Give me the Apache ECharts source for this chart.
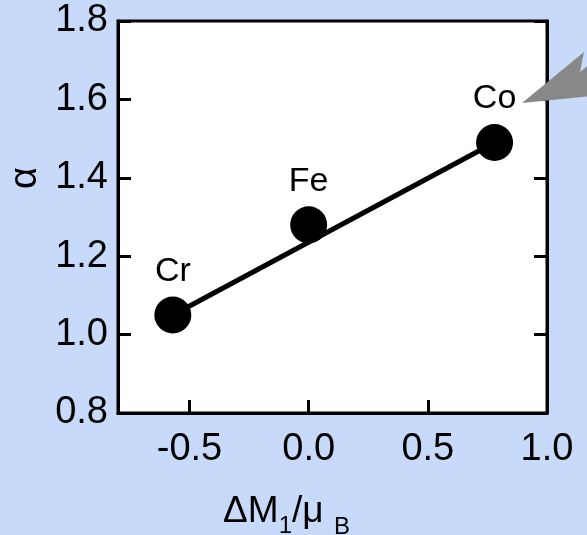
<!DOCTYPE html>
<html>
<head>
<meta charset="utf-8">
<script src="https://cdn.jsdelivr.net/npm/echarts@6/dist/echarts.min.js"></script>
<style>
html,body{margin:0;padding:0;background:#c8dafa;}
#chart{width:587px;height:535px;}
</style>
</head>
<body>
<div id="chart"></div>
<script>
// Data
const elements = ['Cr', 'Fe', 'Co'];
const deltaM = [-0.57, 0.0, 0.78];
const alphaVals = [1.05, 1.28, 1.49];
const fitX = [-0.57, 0.78];
const fitY = [1.05, 1.49];
const xTickValues = [-0.5, 0.0, 0.5, 1.0];

const font = 'Liberation Sans, Arial, sans-serif';
const chart = echarts.init(document.getElementById('chart'));

const pts = elements.map((e, i) => ({ name: e, value: [deltaM[i], alphaVals[i]] }));
const fit = fitX.map((x, i) => [x, fitY[i]]);

chart.setOption({
  backgroundColor: '#c8dafa',
  animation: false,
  grid: {
    left: 118, top: 21, right: 40, bottom: 122,
    containLabel: false, outerBoundsMode: 'none',
    show: true, backgroundColor: '#ffffff', borderColor: '#000', borderWidth: 3
  },
  xAxis: {
    type: 'value', min: -0.8, max: 1.0,
    axisLine: { show: true, onZero: false, lineStyle: { color: '#000', width: 3 } },
    axisTick: { show: true, inside: true, length: 13, customValues: xTickValues, lineStyle: { color: '#000', width: 3 } },
    axisLabel: { show: true, customValues: xTickValues, margin: 18, color: '#000', fontSize: 38, fontFamily: font,
      formatter: v => v.toFixed(1) },
    splitLine: { show: false },
    name: '{a|ΔM}{s|1}{a|/μ }{e|B}',
    nameLocation: 'middle', nameGap: 71,
    nameTextStyle: {
      rich: {
        a: { fontSize: 37, fontFamily: font, color: '#000', lineHeight: 46, verticalAlign: 'bottom' },
        s: { fontSize: 24, fontFamily: font, color: '#000', lineHeight: 46, verticalAlign: 'bottom', padding: [0, 0, -8, 0] },
        e: { fontSize: 24, fontFamily: font, color: '#000', lineHeight: 46, verticalAlign: 'bottom', padding: [0, 92, -9, 0] }
      }
    }
  },
  yAxis: [{
    type: 'value', min: 0.8, max: 1.8, interval: 0.2,
    axisLine: { show: true, onZero: false, lineStyle: { color: '#000', width: 3 } },
    axisTick: { show: true, inside: true, length: 13, lineStyle: { color: '#000', width: 3 } },
    axisLabel: { margin: 10, color: '#000', fontSize: 38, fontFamily: font, formatter: v => v.toFixed(1) },
    splitLine: { show: false },
    name: 'α', nameLocation: 'middle', nameRotate: 90, nameGap: 72,
    nameTextStyle: { fontSize: 38, fontFamily: font, color: '#000', padding: [0, 0, 0, 78] }
  }, {
    type: 'value', min: 0.8, max: 1.8, interval: 0.2, position: 'right',
    axisLine: { show: true, onZero: false, lineStyle: { color: '#000', width: 3 } },
    axisTick: { show: true, inside: true, length: 13, lineStyle: { color: '#000', width: 3 } },
    axisLabel: { show: false },
    splitLine: { show: false }
  }],
  graphic: [{
    type: 'polygon', z: 100,
    shape: { points: [[522, 103], [584, 52], [580, 72], [592, 62], [592, 96]] },
    style: { fill: '#888888' }
  }],
  series: [{
    type: 'line', data: fit, symbol: 'none', z: 2,
    lineStyle: { color: '#000', width: 5, opacity: 1 }
  }, {
    type: 'scatter', data: pts, symbol: 'circle', symbolSize: 37, z: 3,
    itemStyle: { color: '#000', opacity: 1 },
    label: { show: true, position: 'top', distance: 8, formatter: '{b}', color: '#000', fontSize: 34, fontFamily: font }
  }]
});
</script>
</body>
</html>
